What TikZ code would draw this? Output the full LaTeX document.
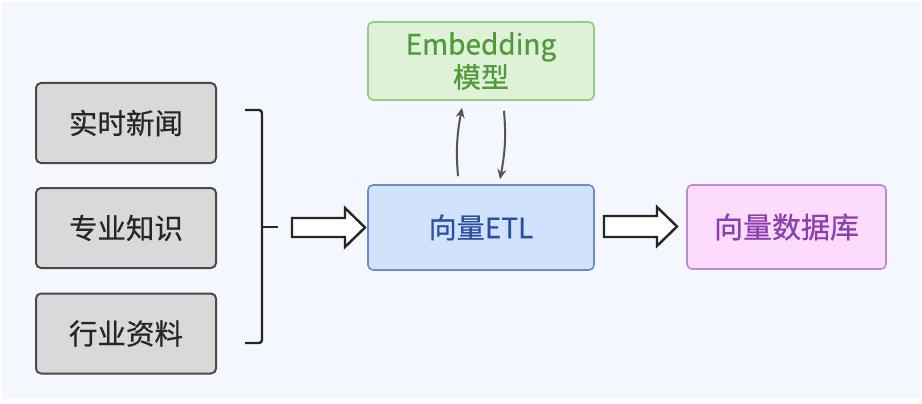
\documentclass[tikz,border=0pt]{standalone}
\usepackage{fontspec}
\setmainfont{Noto Sans CJK SC}[FakeBold=0.6]
\usetikzlibrary{arrows.meta,bending,calc}
\definecolor{bgc}{HTML}{F4F7FD}
\definecolor{grayfill}{HTML}{D9D9D9}
\definecolor{graydraw}{HTML}{4A4A4A}
\definecolor{bluefill}{HTML}{D2E2FC}
\definecolor{bluedraw}{HTML}{6A8CC8}
\definecolor{bluetext}{HTML}{2B4FA0}
\definecolor{greenfill}{HTML}{DFF1D6}
\definecolor{greendraw}{HTML}{93CC81}
\definecolor{greentext}{HTML}{4F9A3B}
\definecolor{pinkfill}{HTML}{FDDBFD}
\definecolor{pinkdraw}{HTML}{BA8AD6}
\definecolor{pinktext}{HTML}{8B3FAF}
\definecolor{arrowgray}{HTML}{555555}
\tikzset{
  srcbox/.style={draw=graydraw, fill=grayfill, line width=2pt, rounded corners=5pt,
    minimum width=180pt, minimum height=80pt, inner sep=0pt,
    font=\fontsize{28.5}{30}\selectfont, text=black!85},
  etlbox/.style={draw=bluedraw, fill=bluefill, line width=1.6pt, rounded corners=5pt,
    minimum width=226pt, minimum height=85pt, inner sep=0pt,
    font=\fontsize{28}{30}\selectfont, text=bluetext},
  embbox/.style={draw=greendraw, fill=greenfill, line width=1.6pt, rounded corners=5pt,
    minimum width=226pt, minimum height=78pt, inner sep=0pt, align=center,
    font=\fontsize{28}{33}\selectfont, text=greentext},
  dbbox/.style={draw=pinkdraw, fill=pinkfill, line width=1.6pt, rounded corners=5pt,
    minimum width=199pt, minimum height=84pt, inner sep=0pt,
    font=\fontsize{29}{30}\selectfont, text=pinktext},
  bracestyle/.style={draw=black!85, line width=2.4pt},
  hollowarrow/.style={draw=black!85, fill=white, line width=2.4pt, line join=miter},
  thinarrow/.style={draw=arrowgray, line width=2pt, -{Stealth[length=10pt,width=9pt]}},
}
\begin{document}
\begin{tikzpicture}[x=1pt,y=-1pt]
\useasboundingbox (0,0) rectangle (922,404);
\fill[white] (0,0) rectangle (922,404);
\fill[bgc] (2,2) rectangle (920,399);

\node[srcbox] (s1) at (126,123) {实时新闻};
\node[srcbox] (s2) at (126,228) {专业知识};
\node[srcbox] (s3) at (126,333.5) {行业资料};

\node[etlbox] (etl) at (481,227.5) {向量ETL};
\node[embbox] (emb) at (481,61) {Embedding\\模型};
\node[dbbox] (db) at (786.5,227) {向量数据库};

% brace
\coordinate (btop) at (245,110);
\coordinate (bmid) at (262,227);
\coordinate (bbot) at (245,343);
\coordinate (btip) at (278,227);
\draw[bracestyle, rounded corners=3pt] (btop) -| (bmid) |- (bbot);
\draw[bracestyle] (bmid) -- (btip);

% hollow arrow 1
\coordinate (a1) at (292,227.5);
\draw[hollowarrow] ($(a1)+(0,-9.5)$) -- ++(53,0) -- ++(0,-10) -- ($(a1)+(73,0)$)
  -- ($(a1)+(53,19.5)$) -- ++(0,-10) -- ($(a1)+(0,9.5)$) -- cycle;

% hollow arrow 2
\coordinate (a2) at (604,226.5);
\draw[hollowarrow] ($(a2)+(0,-10.5)$) -- ++(53,0) -- ++(0,-9) -- ($(a2)+(73,0)$)
  -- ($(a2)+(53,19.5)$) -- ++(0,-9) -- ($(a2)+(0,10.5)$) -- cycle;

% thin arrows
\draw[thinarrow] ([xshift=-23pt,yshift=8pt]etl.north) to[bend left=8] ([xshift=-19pt,yshift=-7pt]emb.south);
\draw[thinarrow] ([xshift=23pt,yshift=-10pt]emb.south) to[bend left=8] ([xshift=19pt,yshift=5pt]etl.north);
\end{tikzpicture}
\end{document}
